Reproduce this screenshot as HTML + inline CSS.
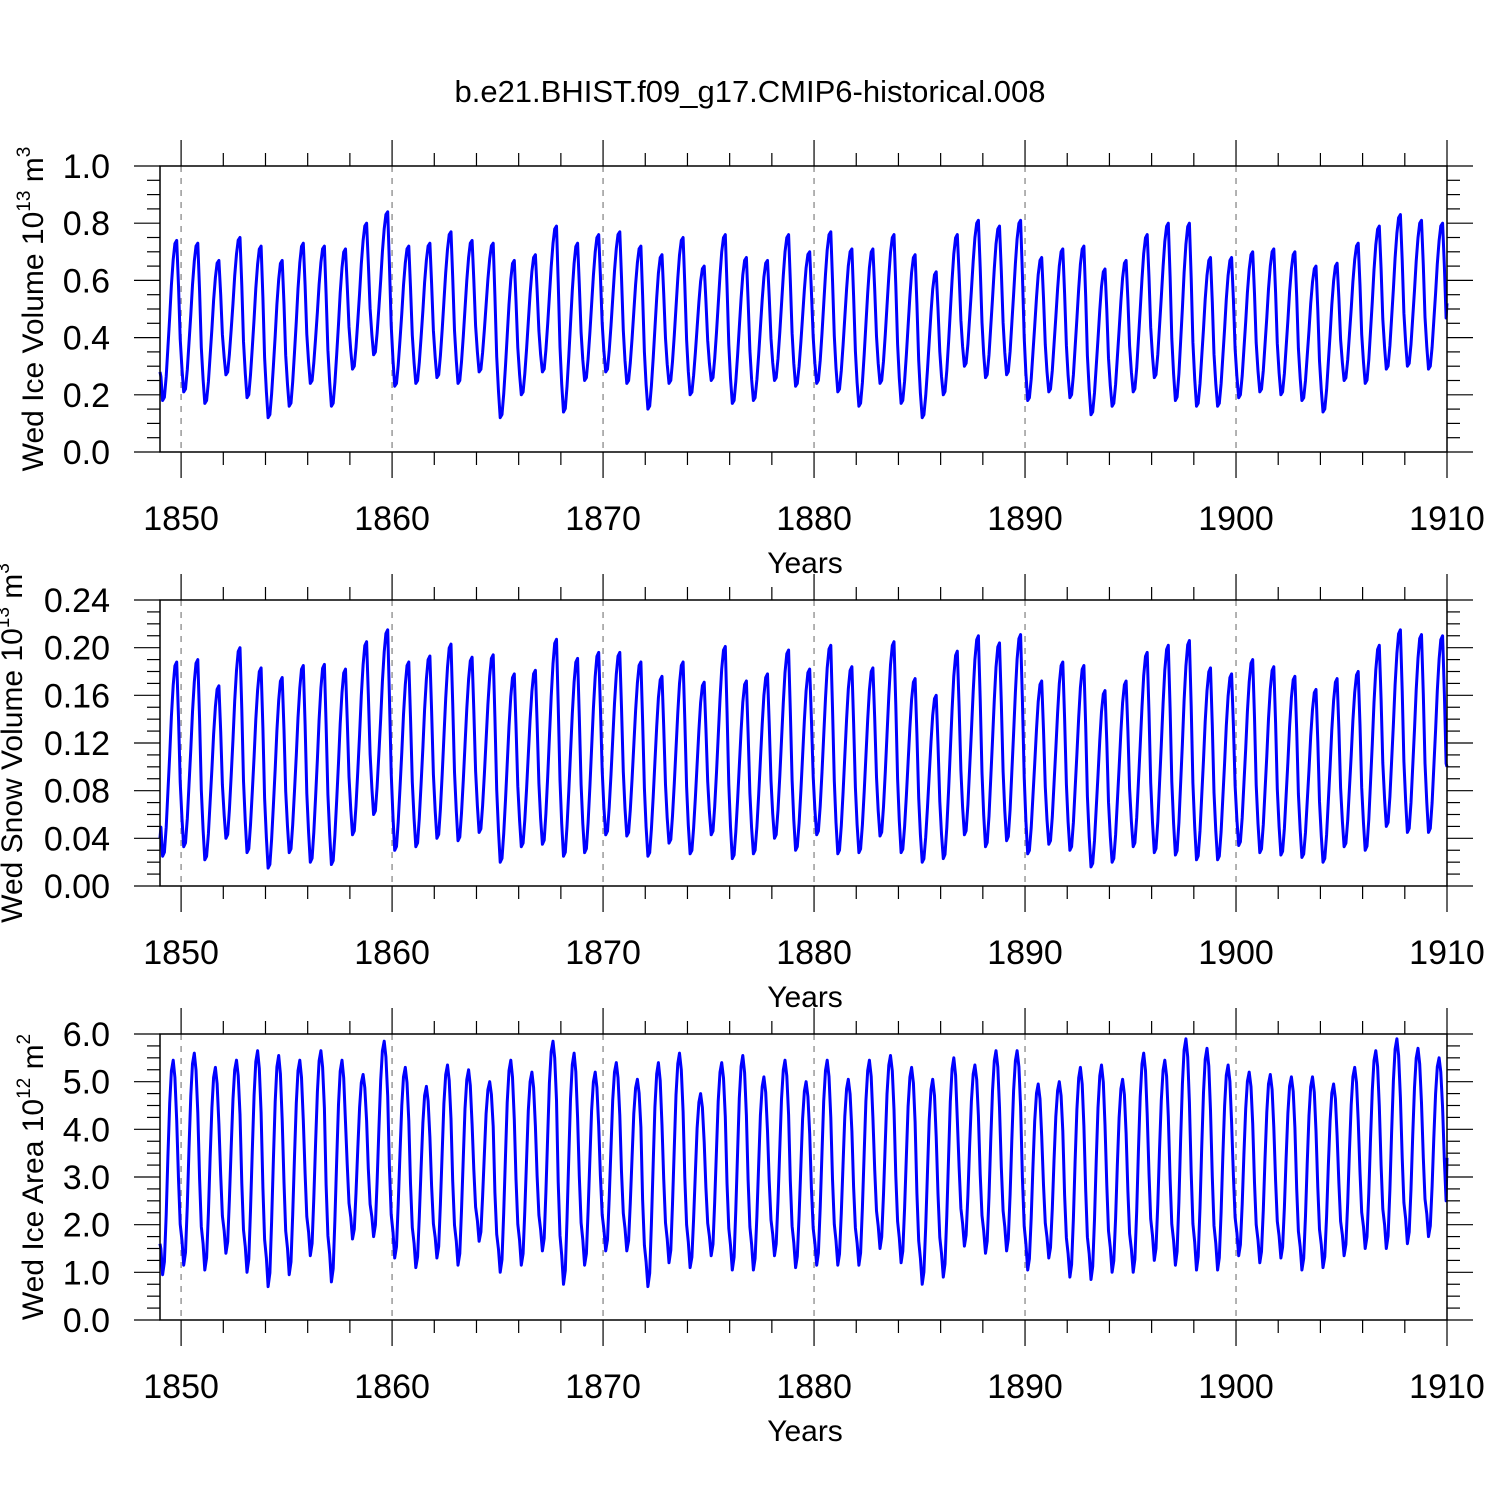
<!DOCTYPE html>
<html><head><meta charset="utf-8"><style>
html,body{margin:0;padding:0;background:#fff}
svg{display:block;font-family:"Liberation Sans",sans-serif}
</style></head><body>
<svg id="chart" width="1500" height="1500" viewBox="0 0 1500 1500">
<text x="750" y="102" text-anchor="middle" font-size="31">b.e21.BHIST.f09_g17.CMIP6-historical.008</text>
</svg>
<script>
// Annual maxima / minima, years 1849..1909
const years = [];
for (let y = 1849; y <= 1909; y++) years.push(y);
const iceVolMax = [0.74,0.73,0.67,0.75,0.72,0.67,0.73,0.72,0.71,0.80,0.84,0.72,0.73,0.77,0.74,0.73,0.67,0.69,0.79,0.73,0.76,0.77,0.72,0.69,0.75,0.65,0.76,0.68,0.67,0.76,0.70,0.77,0.71,0.71,0.76,0.69,0.63,0.76,0.81,0.79,0.81,0.68,0.71,0.72,0.64,0.67,0.76,0.80,0.80,0.68,0.68,0.70,0.71,0.70,0.65,0.66,0.73,0.79,0.83,0.81,0.80];
const iceVolMin = [0.18,0.21,0.17,0.27,0.19,0.12,0.16,0.24,0.16,0.29,0.34,0.23,0.24,0.26,0.24,0.28,0.12,0.20,0.28,0.14,0.25,0.28,0.24,0.15,0.24,0.20,0.25,0.17,0.18,0.25,0.23,0.24,0.21,0.16,0.24,0.17,0.12,0.20,0.30,0.26,0.27,0.18,0.21,0.19,0.13,0.16,0.21,0.26,0.18,0.16,0.16,0.19,0.21,0.20,0.18,0.14,0.25,0.24,0.29,0.30,0.29];
const snowVolMax = [0.188,0.19,0.168,0.20,0.183,0.175,0.185,0.186,0.182,0.205,0.215,0.188,0.193,0.203,0.192,0.194,0.178,0.181,0.207,0.191,0.196,0.196,0.188,0.176,0.188,0.171,0.201,0.172,0.178,0.198,0.182,0.202,0.184,0.183,0.205,0.174,0.160,0.197,0.21,0.204,0.211,0.172,0.188,0.185,0.164,0.172,0.196,0.202,0.206,0.183,0.178,0.190,0.184,0.176,0.165,0.174,0.180,0.202,0.215,0.211,0.210];
const snowVolMin = [0.025,0.033,0.022,0.04,0.028,0.015,0.028,0.02,0.018,0.043,0.06,0.03,0.033,0.04,0.038,0.045,0.02,0.033,0.035,0.025,0.028,0.043,0.042,0.025,0.036,0.027,0.043,0.023,0.027,0.04,0.03,0.043,0.027,0.028,0.042,0.028,0.02,0.023,0.043,0.033,0.038,0.027,0.035,0.03,0.016,0.02,0.033,0.028,0.026,0.022,0.022,0.034,0.028,0.026,0.024,0.02,0.033,0.03,0.05,0.045,0.045];
const iceAreaMax = [5.45,5.6,5.3,5.45,5.65,5.55,5.45,5.65,5.45,5.15,5.85,5.3,4.9,5.35,5.25,5.0,5.45,5.2,5.85,5.6,5.2,5.4,5.05,5.4,5.6,4.75,5.4,5.55,5.1,5.45,5.0,5.45,5.05,5.45,5.55,5.3,5.05,5.5,5.35,5.65,5.65,4.95,5.0,5.3,5.35,5.05,5.6,5.45,5.9,5.7,5.35,5.2,5.15,5.1,5.1,4.95,5.3,5.65,5.9,5.7,5.5];
const iceAreaMin = [0.95,1.15,1.05,1.4,1.0,0.7,0.95,1.35,0.8,1.7,1.75,1.3,1.1,1.3,1.15,1.65,1.0,1.15,1.45,0.75,1.15,1.45,1.45,0.7,1.2,1.1,1.35,1.05,1.05,1.35,1.1,1.15,1.15,1.15,1.5,1.2,0.75,0.9,1.55,1.4,1.45,1.05,1.3,0.9,0.85,1.0,1.0,1.25,1.15,1.05,1.05,1.35,1.2,1.3,1.05,1.1,1.35,1.5,1.5,1.6,1.75];
// seasonal fraction between annual min (0) and max (1), Jan..Dec
const volShape = [0.15,0.0,0.02,0.15,0.33,0.52,0.72,0.88,0.98,1.0,0.7,0.35];
const areaShape = [0.12,0.0,0.06,0.28,0.55,0.8,0.95,1.0,0.92,0.72,0.42,0.2];
const startValues = [0.28,0.04,1.6];
const endValues = [0.52,0.10,3.4];

const yTickLabels1 = ["0.0","0.2","0.4","0.6","0.8","1.0"];
const yTickLabels2 = ["0.00","0.04","0.08","0.12","0.16","0.20","0.24"];
const yTickLabels3 = ["0.0","1.0","2.0","3.0","4.0","5.0","6.0"];
const xTickYears = [1850,1860,1870,1880,1890,1900,1910];

const NS = "http://www.w3.org/2000/svg";
const svg = document.getElementById("chart");
const X0 = 160, X1 = 1447, XMIN = 1849, XMAX = 1910;
function xs(t){ return X0 + (t - XMIN) / (XMAX - XMIN) * (X1 - X0); }
function mk(tag, attrs, parent){ const e = document.createElementNS(NS, tag); for (const k in attrs) e.setAttribute(k, attrs[k]); (parent||svg).appendChild(e); return e; }

const panels = [
 {top:166, bot:452, ymax:1.0, labels:yTickLabels1, minor:0.05, mx:iceVolMax, mn:iceVolMin, shape:volShape, s:0, tx:33, title:"Wed Ice Volume 10", exp:"13", unit:" m", uexp:"3", name:"ice-volume"},
 {top:600, bot:886, ymax:0.24, labels:yTickLabels2, minor:0.01, mx:snowVolMax, mn:snowVolMin, shape:volShape, s:1, tx:12, title:"Wed Snow Volume 10", exp:"13", unit:" m", uexp:"3", name:"snow-volume"},
 {top:1034, bot:1320, ymax:6.0, labels:yTickLabels3, minor:0.25, mx:iceAreaMax, mn:iceAreaMin, shape:areaShape, s:2, tx:33, title:"Wed Ice Area 10", exp:"12", unit:" m", uexp:"2", name:"ice-area"}
];

panels.forEach(p => {
  const g = mk("g", {});
  
  
  const ys = v => p.bot - v / p.ymax * (p.bot - p.top);
  xTickYears.slice(0, 6).forEach(yr => {
    const l = mk("line", {x1:xs(yr), x2:xs(yr), y1:p.top, y2:p.bot, stroke:"#999", "stroke-width":1.5, "stroke-dasharray":"6,6"}, g);
    
    
  });
  const pts = [[XMIN, startValues[p.s]]];
  years.forEach((yr, i) => {
    for (let m = 0; m < 12; m++) {
      const hi = (m < 2 && i > 0) ? p.mx[i-1] : p.mx[i];
      const lo = (m >= 10 && i < years.length - 1) ? p.mn[i+1] : p.mn[i];
      pts.push([yr + (m + 0.5) / 12, lo + (hi - lo) * p.shape[m]]);
    }
  });
  pts.push([XMAX, endValues[p.s]]);
  const d = pts.map((q, k) => (k ? "L" : "M") + xs(q[0]).toFixed(1) + "," + ys(q[1]).toFixed(1)).join("");
  const path = mk("path", {d:d, fill:"none", stroke:"#0000ff", "stroke-width":3, "stroke-linejoin":"round"}, g);
  
  
  const fr = mk("rect", {x:X0, y:p.top, width:X1 - X0, height:p.bot - p.top, fill:"none", stroke:"#000", "stroke-width":1.5}, g);
  
  
  for (let yr = 1850; yr <= 1910; yr += 2) {
    const major = yr % 10 === 0, L = major ? 26 : 13, x = xs(yr);
    mk("line", {x1:x, x2:x, y1:p.top - L, y2:p.top, stroke:"#000", "stroke-width":1.2}, g);
    mk("line", {x1:x, x2:x, y1:p.bot, y2:p.bot + L, stroke:"#000", "stroke-width":1.2}, g);
  }
  xTickYears.forEach(yr => {
    const t = mk("text", {x:xs(yr), y:p.bot + 78, "text-anchor":"middle", "font-size":34}, g);
    t.textContent = yr;
    
    
  });
  const xt = mk("text", {x:805, y:p.bot + 121, "text-anchor":"middle", "font-size":30}, g);
  xt.textContent = "Years";
  
  
  const nMinor = Math.round(p.ymax / p.minor);
  const majorStep = p.ymax / (p.labels.length - 1);
  for (let k = 0; k <= nMinor; k++) {
    const v = k * p.minor, y = ys(v);
    const major = Math.abs(v / majorStep - Math.round(v / majorStep)) < 1e-6, L = major ? 26 : 13;
    mk("line", {x1:X0 - L, x2:X0, y1:y, y2:y, stroke:"#000", "stroke-width":1.2}, g);
    mk("line", {x1:X1, x2:X1 + L, y1:y, y2:y, stroke:"#000", "stroke-width":1.2}, g);
  }
  p.labels.forEach((lab, k) => {
    const t = mk("text", {x:X0 - 50, y:ys(k * majorStep) + 12, "text-anchor":"end", "font-size":34}, g);
    t.textContent = lab;
    
    
  });
  const cy = (p.top + p.bot) / 2;
  const yt = mk("text", {x:0, y:0, "text-anchor":"middle", "font-size":30, transform:`translate(${p.tx + 10},${cy}) rotate(-90)`}, g);
  
  
  yt.appendChild(document.createTextNode(p.title));
  const e1 = mk("tspan", {"font-size":19, dy:-13}, yt); e1.textContent = p.exp;
  const u = mk("tspan", {dy:13}, yt); u.textContent = p.unit;
  const e2 = mk("tspan", {"font-size":19, dy:-13}, yt); e2.textContent = p.uexp;
});
</script>
</body></html>
